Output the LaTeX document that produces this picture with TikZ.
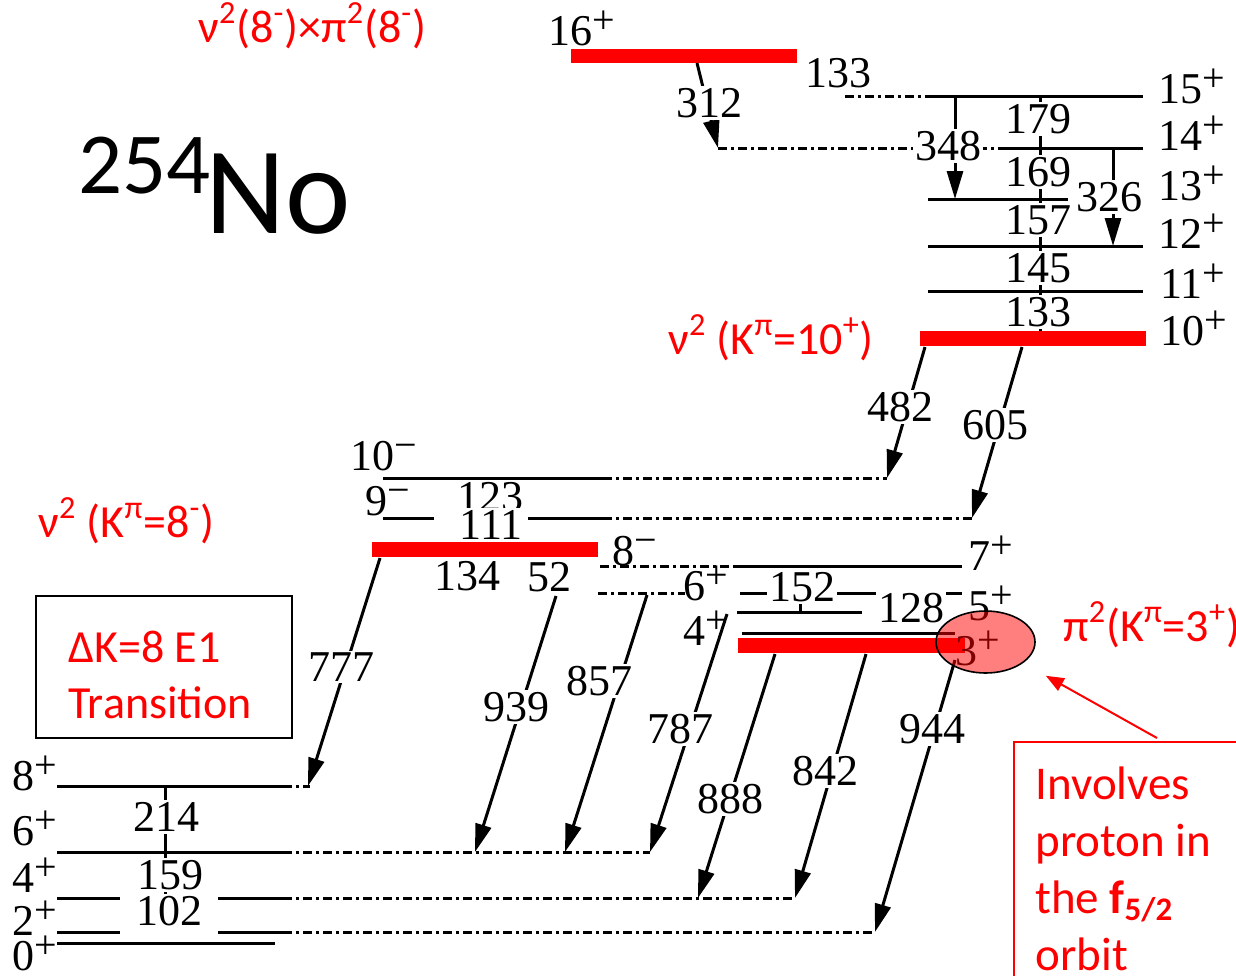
\documentclass[tikz,border=0pt]{standalone}
\usepackage{fontspec}
\setmainfont{Liberation Serif}
\newfontfamily\calfont{Carlito}
\usetikzlibrary{arrows.meta,shapes.geometric,calc}

\newcommand\jsup[1]{\raisebox{6pt}{\fontsize{20}{20}\selectfont #1}}

\tikzset{
  lvl/.style={line width=1.5pt},
  ext/.style={line width=1.5pt, dash pattern=on 4.5pt off 2pt on 1.5pt off 2pt},
  kbar/.style={fill=red},
  trans/.style={line width=1.5pt, -{Triangle[length=14pt,width=8pt]}},
  tickline/.style={line width=1.5pt},
  elab/.style={font=\fontsize{22}{24}\selectfont, fill=white, inner sep=1pt},
  jlab/.style={font=\fontsize{22}{24}\selectfont, anchor=base west, inner sep=0pt},
  klab/.style={font=\calfont\fontsize{23}{28}\selectfont, text=red, anchor=base west, inner sep=0pt},
}

\begin{document}
\begin{tikzpicture}[x=0.5pt,y=-0.5pt]
  \useasboundingbox (0,0) rectangle (1236,975);
  \clip (0,0) rectangle (1236,975);

  % rotational band on the 10+ isomer
  \draw[lvl] (930,96) -- (1143,96);
  \draw[ext] (845,96) -- (930,96);
  \draw[lvl] (1005,148) -- (1143,148);
  \draw[ext] (718,148) -- (1005,148);
  \draw[lvl] (928,199) -- (1068,199);
  \draw[lvl] (928,246) -- (1143,246);
  \draw[lvl] (928,291) -- (1143,291);
  \fill[kbar] (571,49) rectangle (797,63);
  \fill[kbar] (920,331) rectangle (1146,346);

  % band on the 8- isomer
  \draw[lvl] (383,478) -- (603,478);
  \draw[ext] (603,478) -- (887,478);
  \draw[lvl] (383,518) -- (434,518);
  \draw[lvl] (528,518) -- (603,518);
  \draw[ext] (603,518) -- (972,518);
  \fill[kbar] (372,542) rectangle (598,557);

  % band on the 3+ state
  \draw[ext] (600,566) -- (735,566);
  \draw[lvl] (735,566) -- (962,566);
  \draw[ext] (598,593) -- (685,593);
  \draw[lvl] (740,593) -- (962,593);
  \draw[lvl] (737,612) -- (862,612);
  \draw[lvl] (742,633) -- (955,633);
  \fill[kbar] (738,638) rectangle (965,653);

  % ground-state band
  \draw[lvl] (57,786) -- (283,786);
  \draw[ext] (283,786) -- (310,786);
  \draw[lvl] (57,852) -- (283,852);
  \draw[ext] (283,852) -- (650,852);
  \draw[lvl] (57,898) -- (120,898);
  \draw[lvl] (218,898) -- (283,898);
  \draw[ext] (283,898) -- (795,898);
  \draw[lvl] (57,932) -- (120,932);
  \draw[lvl] (218,932) -- (283,932);
  \draw[ext] (283,932) -- (875,932);
  \draw[lvl] (57,943) -- (275,943);

  % in-band transitions
  \draw[tickline] (1040,96) -- (1040,331);
  \draw[tickline] (490,478) -- (490,542);
  \draw[tickline] (800,593) -- (800,612);
  \draw[tickline] (165,786) -- (165,898);

  % gamma transitions
  \coordinate (a312) at (697,63);   \coordinate (b312) at (718,148);
  \coordinate (a348) at (955,96);   \coordinate (b348) at (955,199);
  \coordinate (a326) at (1113,148); \coordinate (b326) at (1113,246);
  \coordinate (a482) at (925,347);  \coordinate (b482) at (887,478);
  \coordinate (a605) at (1022,347); \coordinate (b605) at (972,518);
  \coordinate (a777) at (380,558);  \coordinate (b777) at (308,786);
  \coordinate (a939) at (556,596);  \coordinate (b939) at (475,852);
  \coordinate (a857) at (647,595);  \coordinate (b857) at (565,852);
  \coordinate (a787) at (727,614);  \coordinate (b787) at (650,852);
  \coordinate (a888) at (775,654);  \coordinate (b888) at (698,898);
  \coordinate (a842) at (866,654);  \coordinate (b842) at (795,898);
  \coordinate (a944) at (955,660);  \coordinate (b944) at (875,932);
  \draw[trans] (a312) -- (b312);
  \draw[trans] (a348) -- (b348);
  \draw[trans] (a326) -- (b326);
  \draw[trans] (a482) -- (b482);
  \draw[trans] (a605) -- (b605);
  \draw[trans] (a777) -- (b777);
  \draw[trans] (a939) -- (b939);
  \draw[trans] (a857) -- (b857);
  \draw[trans] (a787) -- (b787);
  \draw[trans] (a888) -- (b888);
  \draw[trans] (a842) -- (b842);
  \draw[trans] (a944) -- (b944);

  % energies
  \node[elab] (e133t) at (838,73) {133};
  \node[elab] (e312) at (709,103) {312};
  \node[elab] (e179) at (1038,119) {179};
  \node[elab] (e348) at (948,146) {348};
  \node[elab] (e169) at (1038,172) {169};
  \node[elab] (e326) at (1109,197) {326};
  \node[elab] (e157) at (1038,220) {157};
  \node[elab] (e145) at (1038,268) {145};
  \node[elab] (e133) at (1038,312) {133};
  \node[elab] (e482) at (900,407) {482};
  \node[elab] (e605) at (995,425) {605};
  \node[elab] (e123) at (490,497) {123};
  \node[elab] (e111) at (491,525) {111};
  \node[elab] (e134) at (467,576) {134};
  \node[elab] (e52) at (549,577) {52};
  \node[elab] (e152) at (802,587) {152};
  \node[elab] (e128) at (911,608) {128};
  \node[elab] (e777) at (341,667) {777};
  \node[elab] (e939) at (516,707) {939};
  \node[elab] (e857) at (599,681) {857};
  \node[elab] (e787) at (680,729) {787};
  \node[elab] (e888) at (730,799) {888};
  \node[elab] (e842) at (825,771) {842};
  \node[elab] (e944) at (932,729) {944};
  \node[elab] (e214) at (166,817) {214};
  \node[elab] (e159) at (170,875) {159};
  \node[elab] (e102) at (169,911) {102};

  % spins
  \node[jlab] (j16) at (548,45) {16\jsup{+}};
  \node[jlab] (j15) at (1158,103) {15\jsup{+}};
  \node[jlab] (j14) at (1158,150) {14\jsup{+}};
  \node[jlab] (j13) at (1158,200) {13\jsup{+}};
  \node[jlab] (j12) at (1158,248) {12\jsup{+}};
  \node[jlab] (j11) at (1160,298) {11\jsup{+}};
  \node[jlab] (j10) at (1160,345) {10\jsup{+}};
  \node[jlab] (j10m) at (350,470) {10\jsup{−}};
  \node[jlab] (j9m) at (365,515) {9\jsup{−}};
  \node[jlab] (j8m) at (612,565) {8\jsup{−}};
  \node[jlab] (j7) at (968,570) {7\jsup{+}};
  \node[jlab] (j6b) at (683,600) {6\jsup{+}};
  \node[jlab] (j5) at (968,620) {5\jsup{+}};
  \node[jlab] (j4b) at (683,645) {4\jsup{+}};
  \node[jlab] (j3) at (955,665) {3\jsup{+}};
  \node[jlab] (g8) at (12,790) {8\jsup{+}};
  \node[jlab] (g6) at (12,845) {6\jsup{+}};
  \node[jlab] (g4) at (12,892) {4\jsup{+}};
  \node[jlab] (g2) at (12,935) {2\jsup{+}};
  \node[jlab] (g0) at (12,970) {0\jsup{+}};

  % configurations
  \node[ellipse, draw, line width=0.8pt, fill=red, fill opacity=0.5, minimum width=49.5pt, minimum height=31pt, inner sep=0pt] (pi3) at (985.5,642) {};
  \node[klab] (cfg16) at (198,42) {ν\textsuperscript{2}(8\textsuperscript{-})×π\textsuperscript{2}(8\textsuperscript{-})};
  \node[klab] (cfg10) at (668,354) {ν\textsuperscript{2} (K\textsuperscript{π}=10\textsuperscript{+})};
  \node[klab] (cfg8) at (38,537) {ν\textsuperscript{2} (K\textsuperscript{π}=8\textsuperscript{-})};
  \node[klab] (cfg3) at (1063,641) {π\textsuperscript{2}(K\textsuperscript{π}=3\textsuperscript{+})};

  % nucleus
  \node[anchor=base west, inner sep=0pt, font=\calfont\fontsize{43.5}{48}\selectfont] (mass) at (78,193) {254};
  \node[anchor=base west, inner sep=0pt, font=\calfont\fontsize{62}{66}\selectfont] (elem) at (205,233) {No};

  % boxes
  \draw[line width=0.7pt] (36,596) rectangle (292,738);
  \node[klab, align=left] (dk) at (68,718) {ΔK=8 E1\\Transition};
  \draw[red, line width=0.8pt] (1014,742) rectangle (1300,1050);
  \node[klab, align=left, font=\calfont\fontsize{23.5}{28.5}\selectfont] (note) at (1035,970) {Involves\\proton in\\the \textbf{f}\textsubscript{\textbf{5/2}}\\orbit};
  \coordinate (notetip) at (1157,738);
  \draw[red, line width=1pt, -{Triangle[length=9pt,width=7pt]}, shorten >=13pt] (notetip) -- (pi3);
\end{tikzpicture}
\end{document}
